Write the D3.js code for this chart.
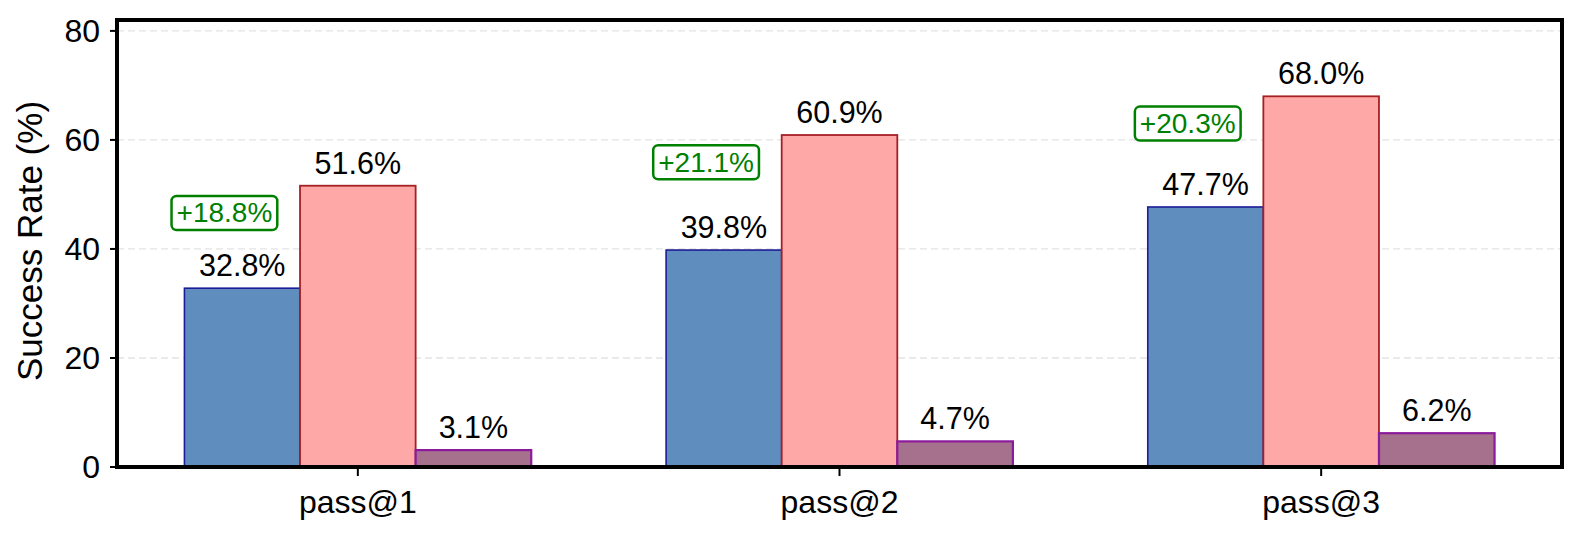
<!DOCTYPE html>
<html>
<head>
<meta charset="utf-8">
<script src="https://cdn.jsdelivr.net/npm/d3@7"></script>
<style>
    html, body { margin: 0; padding: 0; background: #ffffff; }
    svg { display: block; font-family: "Liberation Sans", Arial, Helvetica, sans-serif; }
</style>
</head>
<body>
<div id="chart"></div>
<script>
'use strict';

// chart data
var categories = ["pass@1", "pass@2", "pass@3"];
var baselineValues = [32.8, 39.8, 47.7];
var improvedValues = [51.6, 60.9, 68.0];
var thirdValues = [3.1, 4.7, 6.2];
var gainLabels = ["+18.8%", "+21.1%", "+20.3%"];
var yTicks = [0, 20, 40, 60, 80];

var width = 1581;
var height = 535;

var svg = d3.select("#chart").append("svg")
    .attr("width", width)
    .attr("height", height);

var x = d3.scaleLinear().domain([-0.5, 2.5]).range([117, 1562]);
var y = d3.scaleLinear().domain([0, 82]).range([467, 20]);

var barWidth = 0.24;

// series styles, offset is in group units
var series = [
    { values: baselineValues, offset: -barWidth, fill: "#5f8dbd", stroke: "#1c1c96", strokeWidth: 1.6 },
    { values: improvedValues, offset: 0, fill: "#ffa8a8", stroke: "#a52024", strokeWidth: 1.8 },
    { values: thirdValues, offset: barWidth, fill: "#a5718c", stroke: "#8c1a9c", strokeWidth: 2.2 }
];

// horizontal grid
svg.append("g")
    .attr("class", "grid")
    .selectAll("line")
    .data(yTicks)
    .enter().append("line")
    .attr("x1", x(-0.5))
    .attr("x2", x(2.5))
    .attr("y1", function (d) { return y(d); })
    .attr("y2", function (d) { return y(d); })
    .attr("stroke", "#e3e3e3")
    .attr("stroke-width", 1.3)
    .attr("stroke-dasharray", "7,4");

// bars
series.forEach(function (s) {
    var g = svg.append("g");

    g.selectAll("rect")
        .data(s.values)
        .enter().append("rect")
        .attr("x", function (d, i) { return x(i + s.offset - barWidth / 2); })
        .attr("y", function (d) { return y(d); })
        .attr("width", function (d, i) { return x(i + s.offset + barWidth / 2) - x(i + s.offset - barWidth / 2); })
        .attr("height", function (d) { return y(0) - y(d); })
        .attr("fill", s.fill)
        .attr("stroke", s.stroke)
        .attr("stroke-width", s.strokeWidth);

    g.selectAll("text")
        .data(s.values)
        .enter().append("text")
        .attr("x", function (d, i) { return x(i + s.offset); })
        .attr("y", function (d) { return y(d) - 12; })
        .attr("text-anchor", "middle")
        .style("font-size", "30.5px")
        .style("fill", "#000000")
        .text(function (d) { return d.toFixed(1) + "%"; });
});

// gain annotations
var gains = svg.append("g").attr("class", "gains");

gainLabels.forEach(function (label, i) {
    var cx = x(i - 0.277);
    var cy = y(improvedValues[i] - 5);

    var box = gains.append("rect");

    var t = gains.append("text")
        .attr("x", cx)
        .attr("y", cy)
        .attr("text-anchor", "middle")
        .attr("dominant-baseline", "central")
        .style("font-size", "28px")
        .style("fill", "#008000")
        .text(label);

    var tw = t.node().getComputedTextLength();
    var bw = tw + 10;
    var bh = 34;

    box.attr("x", cx - bw / 2)
        .attr("y", cy - bh / 2)
        .attr("width", bw)
        .attr("height", bh)
        .attr("rx", 5)
        .attr("ry", 5)
        .attr("fill", "#ffffff")
        .attr("stroke", "#008000")
        .attr("stroke-width", 2.5);
});

// y axis ticks and labels
var yAxis = svg.append("g");

yAxis.selectAll("line")
    .data(yTicks)
    .enter().append("line")
    .attr("x1", x(-0.5) - 7)
    .attr("x2", x(-0.5))
    .attr("y1", function (d) { return y(d); })
    .attr("y2", function (d) { return y(d); })
    .attr("stroke", "#000000")
    .attr("stroke-width", 2);

yAxis.selectAll("text")
    .data(yTicks)
    .enter().append("text")
    .attr("x", x(-0.5) - 17)
    .attr("y", function (d) { return y(d); })
    .attr("text-anchor", "end")
    .attr("dominant-baseline", "central")
    .style("font-size", "32px")
    .text(function (d) { return d; });

// x axis ticks and labels
var xAxis = svg.append("g");

xAxis.selectAll("line")
    .data(categories)
    .enter().append("line")
    .attr("x1", function (d, i) { return x(i); })
    .attr("x2", function (d, i) { return x(i); })
    .attr("y1", y(0))
    .attr("y2", y(0) + 9)
    .attr("stroke", "#000000")
    .attr("stroke-width", 2);

xAxis.selectAll("text")
    .data(categories)
    .enter().append("text")
    .attr("x", function (d, i) { return x(i); })
    .attr("y", 513)
    .attr("text-anchor", "middle")
    .style("font-size", "32px")
    .text(function (d) { return d; });

// y axis title
svg.append("text")
    .attr("transform", "translate(42,241) rotate(-90)")
    .attr("text-anchor", "middle")
    .style("font-size", "35px")
    .text("Success Rate (%)");

// frame
svg.append("rect")
    .attr("x", x(-0.5))
    .attr("y", y(82))
    .attr("width", x(2.5) - x(-0.5))
    .attr("height", y(0) - y(82))
    .attr("fill", "none")
    .attr("stroke", "#000000")
    .attr("stroke-width", 4);
</script>
</body>
</html>
